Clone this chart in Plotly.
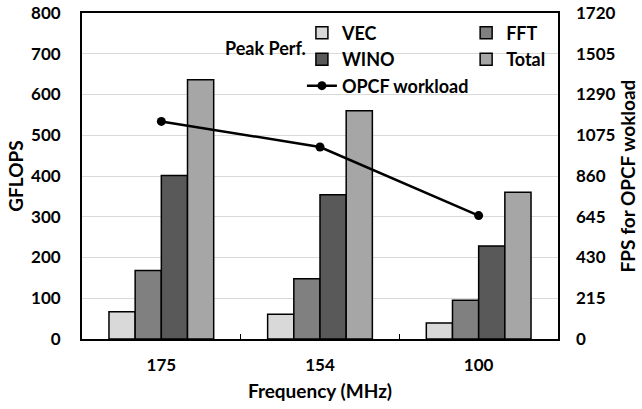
import plotly.graph_objects as go

categories = ["175", "154", "100"]
vec = [67, 61, 39]
fft = [168, 148, 95]
wino = [401, 354, 228]
total = [636, 560, 360]
opcf_fps = [1148, 1013, 651]

left_ticks = list(range(0, 801, 100))
right_ticks = list(range(0, 1721, 215))

FONT = "Lato"
fig = go.Figure()

bar_line = dict(color="black", width=1.5)
fig.add_trace(go.Bar(x=categories, y=vec, name="VEC", marker=dict(color="#d9d9d9", line=bar_line), legend="legend"))
fig.add_trace(go.Bar(x=categories, y=fft, name="FFT", marker=dict(color="#808080", line=bar_line), legend="legend2"))
fig.add_trace(go.Bar(x=categories, y=wino, name="WINO", marker=dict(color="#595959", line=bar_line), legend="legend"))
fig.add_trace(go.Bar(x=categories, y=total, name="Total", marker=dict(color="#a6a6a6", line=bar_line), legend="legend2"))
fig.add_trace(go.Scatter(x=categories, y=opcf_fps, name="OPCF workload", mode="lines+markers",
                         line=dict(color="black", width=2.5), marker=dict(color="black", size=9),
                         yaxis="y2", legend="legend"))

legend_common = dict(font=dict(family=FONT, size=18, color="black", weight="bold"), bgcolor="rgba(0,0,0,0)",
                     yanchor="top", xanchor="left", tracegroupgap=0, itemwidth=30)

fig.update_layout(
    width=642, height=409,
    margin=dict(l=82, r=84, t=13, b=70, autoexpand=False),
    paper_bgcolor="white", plot_bgcolor="white",
    font=dict(family=FONT, size=16, color="black"),
    barmode="group", bargap=0.34, bargroupgap=0,
    legend=dict(x=0.462, y=0.995, **legend_common),
    legend2=dict(x=0.807, y=0.995, **legend_common),
    xaxis=dict(
        type="category", showline=True, linecolor="black", linewidth=1.8, mirror=True,
        ticks="inside", tickson="boundaries", ticklen=5, tickcolor="black", automargin=False,
        ticklabelstandoff=10,
        tickfont=dict(family=FONT, size=17, color="black", weight="bold"),
        title=dict(text="Frequency (MHz)", font=dict(family=FONT, size=19, color="black", weight="bold"), standoff=10),
    ),
    yaxis=dict(
        range=[0, 800], tickvals=left_ticks, showgrid=True, gridcolor="#d9d9d9", gridwidth=1,
        showline=True, linecolor="black", linewidth=1.8, mirror=True, ticks="", zeroline=False,
        ticklabelstandoff=16, automargin=False,
        tickfont=dict(family=FONT, size=17, color="black", weight="bold"),
        title=dict(text="GFLOPS", font=dict(family=FONT, size=19, color="black", weight="bold"), standoff=2),
    ),
    yaxis2=dict(
        range=[0, 1720], tickvals=right_ticks, overlaying="y", side="right", showgrid=False,
        zeroline=False, showline=False, ticks="", ticklabelstandoff=17, automargin=False,
        tickfont=dict(family=FONT, size=17, color="black", weight="bold"),
        title=dict(text="FPS for OPCF wokload", font=dict(family=FONT, size=19, color="black", weight="bold"), standoff=6),
    ),
    annotations=[dict(text="<b>Peak Perf.</b>", x=0.385, y=0.893, xref="paper", yref="paper",
                      xanchor="center", yanchor="middle",
                      showarrow=False, font=dict(family=FONT, size=18, color="black"))],
)

fig.write_html("out.html")
